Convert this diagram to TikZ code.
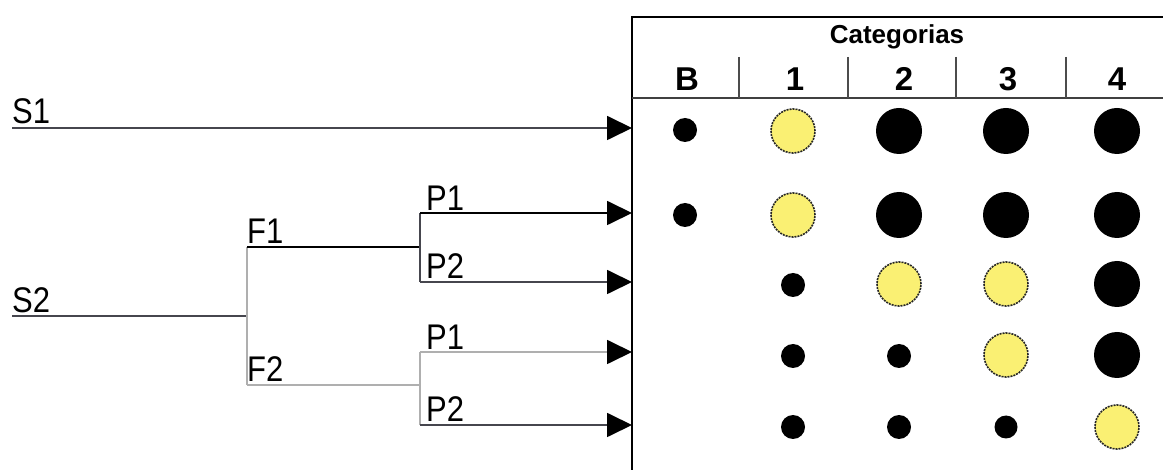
\documentclass[tikz,border=0pt]{standalone}
\usepackage{fontspec}
\setmainfont{Liberation Sans}
\usetikzlibrary{arrows.meta}
\definecolor{dotyellow}{RGB}{250,240,115}
\definecolor{lgray}{RGB}{175,175,175}
\definecolor{mgray}{RGB}{70,70,78}
\tikzset{
  lbl/.style={inner sep=0pt, anchor=base west, font=\fontsize{31}{31}\selectfont},
  hdr/.style={inner sep=0pt, anchor=base, font=\bfseries\fontsize{33}{33}\selectfont},
  conn/.style={line width=1.8pt},
  arr/.style={conn, -{Triangle[length=25pt,width=24pt,black]}},
  big/.style={circle, fill=black, minimum size=46pt, inner sep=0pt},
  small/.style={circle, fill=black, minimum size=24pt, inner sep=0pt},
  yel/.style={circle, fill=dotyellow, draw=black!85, dash pattern=on 2pt off 1pt, line width=1.6pt, minimum size=44pt, inner sep=0pt},
}
\newcommand{\tall}[1]{\scalebox{1}[1.15]{#1}}
\begin{document}
\begin{tikzpicture}[x=1pt,y=-1pt]
\useasboundingbox (0,0) rectangle (1163,470);
% box
\draw[line width=2.2pt] (632,470) -- (632,17) -- (1163,17);
\draw[line width=2pt, black!75] (632,98) -- (1163,98);
\foreach \x in {739,848,956,1066} \draw[line width=1.6pt, black!70] (\x,57) -- (\x,98);
\node[hdr, font=\bfseries\fontsize{26}{26}\selectfont] (cat) at (897,44) {Categorias};
\node[hdr] (hB) at (687,91) {B};
\node[hdr] (h1) at (795,91) {1};
\node[hdr] (h2) at (904,91) {2};
\node[hdr] (h3) at (1008,91) {3};
\node[hdr] (h4) at (1117,91) {4};
% targets
\coordinate (t1) at (632,128);
\coordinate (t2) at (632,213);
\coordinate (t3) at (632,282);
\coordinate (t4) at (632,352);
\coordinate (t5) at (632,425);
% labels
\node[lbl] (S1) at (12,124) {\tall{S1}};
\node[lbl] (S2) at (12,313) {\tall{S2}};
\node[lbl] (F1) at (247,244) {\tall{F1}};
\node[lbl] (F2) at (247,382) {\tall{F2}};
\node[lbl] (P1a) at (426,211) {\tall{P1}};
\node[lbl] (P2a) at (426,279) {\tall{P2}};
\node[lbl] (P1b) at (426,350) {\tall{P1}};
\node[lbl] (P2b) at (426,422) {\tall{P2}};
% junctions
\coordinate (s1s) at (12,128);
\coordinate (s2s) at (12,316);
\coordinate (j0) at (247,316);
\coordinate (j0a) at (247,247);
\coordinate (j0b) at (247,385);
\coordinate (j1) at (420,247);
\coordinate (j1a) at (420,213);
\coordinate (j1b) at (420,282);
\coordinate (j2) at (420,385);
\coordinate (j2a) at (420,352);
\coordinate (j2b) at (420,425);
% connectors
\draw[arr, mgray] (s1s) -- (t1);
\draw[conn, mgray] (s2s) -- (j0);
\draw[conn, lgray] (j0a) -- (j0b);
\draw[conn, black] (j0a) -- (j1);
\draw[conn, lgray] (j0b) -- (j2);
\draw[conn, mgray] (j1a) -- (j1b);
\draw[conn, lgray] (j2a) -- (j2b);
\draw[arr, black] (j1a) -- (t2);
\draw[arr, mgray] (j1b) -- (t3);
\draw[arr, lgray] (j2a) -- (t4);
\draw[arr, mgray] (j2b) -- (t5);
% dots
\node[small] (d1B) at (685,130) {};
\node[yel]   (d11) at (793,131) {};
\node[big]   (d12) at (899,131) {};
\node[big]   (d13) at (1006,131) {};
\node[big]   (d14) at (1117,131) {};
\node[small] (d2B) at (685,215) {};
\node[yel]   (d21) at (793,215) {};
\node[big]   (d22) at (899,215) {};
\node[big]   (d23) at (1006,215) {};
\node[big]   (d24) at (1117,215) {};
\node[small] (d31) at (793,285) {};
\node[yel]   (d32) at (899,284) {};
\node[yel]   (d33) at (1006,284) {};
\node[big]   (d34) at (1117,284) {};
\node[small] (d41) at (793,356) {};
\node[small] (d42) at (899,356) {};
\node[yel]   (d43) at (1006,355) {};
\node[big]   (d44) at (1117,355) {};
\node[small] (d51) at (793,427) {};
\node[small] (d52) at (899,427) {};
\node[small, minimum size=23pt] (d53) at (1006,427) {};
\node[yel]   (d54) at (1117,427) {};
\end{tikzpicture}
\end{document}
